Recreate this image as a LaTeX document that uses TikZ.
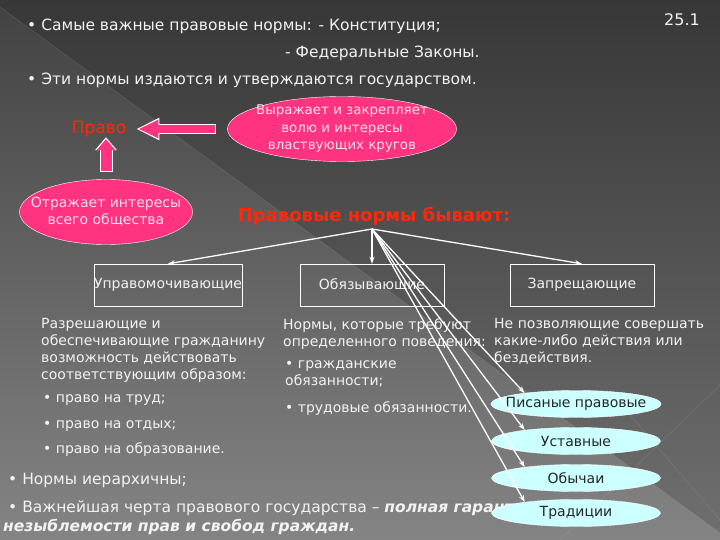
\documentclass[tikz,border=0pt]{standalone}
\usepackage{fontspec}
\setmainfont{DejaVu Sans}
\usetikzlibrary{arrows.meta,shapes.geometric}

\definecolor{fontop}{RGB}{66,66,66}
\definecolor{fonniz}{RGB}{132,132,132}
\definecolor{rozov}{RGB}{255,51,128}
\definecolor{goluboy}{RGB}{204,255,255}
\definecolor{krasn}{RGB}{255,40,10}
\definecolor{svet}{RGB}{242,242,242}

\tikzset{
  txt/.style={anchor=west, inner sep=0, text=svet, font=\fontsize{15.5}{18}\selectfont},
  opis/.style={anchor=north west, inner sep=0, text=svet, align=left, font=\fontsize{14}{17}\selectfont},
  pinkell/.style={ellipse, draw=white, fill=rozov, text=white!85!rozov, inner sep=-14pt, align=center},
  cyanell/.style={ellipse, draw=white, fill=goluboy, text=black!85, inner sep=-10pt,
    minimum width=169, minimum height=27, font=\fontsize{14}{16}\selectfont},
  vid/.style={draw=white, minimum width=144, minimum height=42, inner sep=0, text=svet,
    font=\fontsize{14}{16}\selectfont},
  strel/.style={draw=white, line width=1.3pt, -{Stealth[length=7pt,width=5pt]}},
}

\begin{document}
\begin{tikzpicture}[x=1pt,y=-1pt]
\useasboundingbox (0,0) rectangle (720,540);
% fon
\shade[top color=fontop, bottom color=fonniz] (0,0) rectangle (720,540);
\fill[black, opacity=0.15] (0,0) -- (0,7) -- (720,533) -- (720,0) -- cycle;
\draw[white, opacity=0.15] (0,7) -- (720,533);
\draw[white, opacity=0.12] (560,540) -- (720,385);
\draw[white, opacity=0.12] (630,415) -- (720,520);

% verh
\node[txt, anchor=east, font=\fontsize{16}{18}\selectfont] (num) at (700,20) {25.1};
\node[txt] (konst) at (27,26) {• Самые важные правовые нормы: - Конституция;};
\node[txt] (fed) at (285,53) {- Федеральные Законы.};
\node[txt] (izd) at (27,80) {• Эти нормы издаются и утверждаются государством.};

% pravo
\node[inner sep=0, text=krasn, font=\fontsize{17}{19}\selectfont] (pravo) at (99,129) {Право};
\node[pinkell, minimum width=229, minimum height=65, font=\fontsize{13.4}{17.5}\selectfont] (vyr) at (342,129)
  {Выражает и закрепляет\\волю и интересы\\властвующих кругов};
\node[pinkell, minimum width=152, minimum height=65, font=\fontsize{14}{17.5}\selectfont] (otr) at (106,212)
  {Отражает интересы\\всего общества};
\draw[white, line width=10pt, -{Triangle[length=23pt,width=21pt]}, shorten <=11pt, shorten >=10pt] (vyr.west) -- (pravo.east);
\draw[rozov, line width=8pt, -{Triangle[length=20pt,width=17pt]}, shorten <=12pt, shorten >=12pt] (vyr.west) -- (pravo.east);
\draw[white, line width=13pt, -{Triangle[length=13pt,width=21pt]}, shorten <=7pt, shorten >=0pt] (otr.north) -- (otr.north |- pravo.south);
\draw[rozov, line width=11pt, -{Triangle[length=11pt,width=18pt]}, shorten <=8pt, shorten >=2pt] (otr.north) -- (otr.north |- pravo.south);

% vidy
\node[inner sep=0, text=krasn, font=\bfseries\fontsize{18}{20}\selectfont] (normy) at (374,216) {Правовые нормы бывают:};
\coordinate (verh) at (372,229);
\node[vid] (upr) at (168,285) {Управомочивающие};
\node[vid] (obyaz) at (372,285) {Обязывающие};
\node[vid] (zapr) at (582,285) {Запрещающие};
\draw[strel] (verh) -- (upr.north);
\draw[strel] (verh) -- (obyaz.north);
\draw[strel] (verh) -- (zapr.north);

% opisaniya
\node[opis] (razr) at (41,318) {Разрешающие и\\обеспечивающие гражданину\\возможность действовать\\соответствующим образом:};
\node[opis, anchor=west] (trud) at (43,400) {• право на труд;};
\node[opis, anchor=west] (otdyh) at (43,426) {• право на отдых;};
\node[opis, anchor=west] (obraz) at (43,450) {• право на образование.};
\node[opis] (treb) at (283,318) {Нормы, которые требуют\\определенного поведения:};
\node[opis] (grazhd) at (285,360) {• гражданские\\обязанности;};
\node[opis, anchor=west] (trudob) at (285,409) {• трудовые обязанности.};
\node[opis] (nepoz) at (494,318) {Не позволяющие совершать\\какие-либо действия или\\бездействия.};

% niz
\node[txt] (ierar) at (8,480) {• Нормы иерархичны;};
\node[txt] (cherta) at (8,508) {• Важнейшая черта правового государства – \textbf{\textit{полная гарантия}}};
\node[txt] (nezyb) at (3,527) {\textbf{\textit{незыблемости прав и свобод граждан.}}};

% istochniki
\node[cyanell] (pis) at (576,404) {Писаные правовые};
\node[cyanell] (ust) at (576,441) {Уставные};
\node[cyanell] (obych) at (576,478) {Обычаи};
\node[cyanell] (trad) at (576,513) {Традиции};
\draw[strel] (verh) -- (pis.168);
\draw[strel] (verh) -- (ust.168);
\draw[strel] (verh) -- (obych.168);
\draw[strel] (verh) -- (trad.168);
\end{tikzpicture}
\end{document}
